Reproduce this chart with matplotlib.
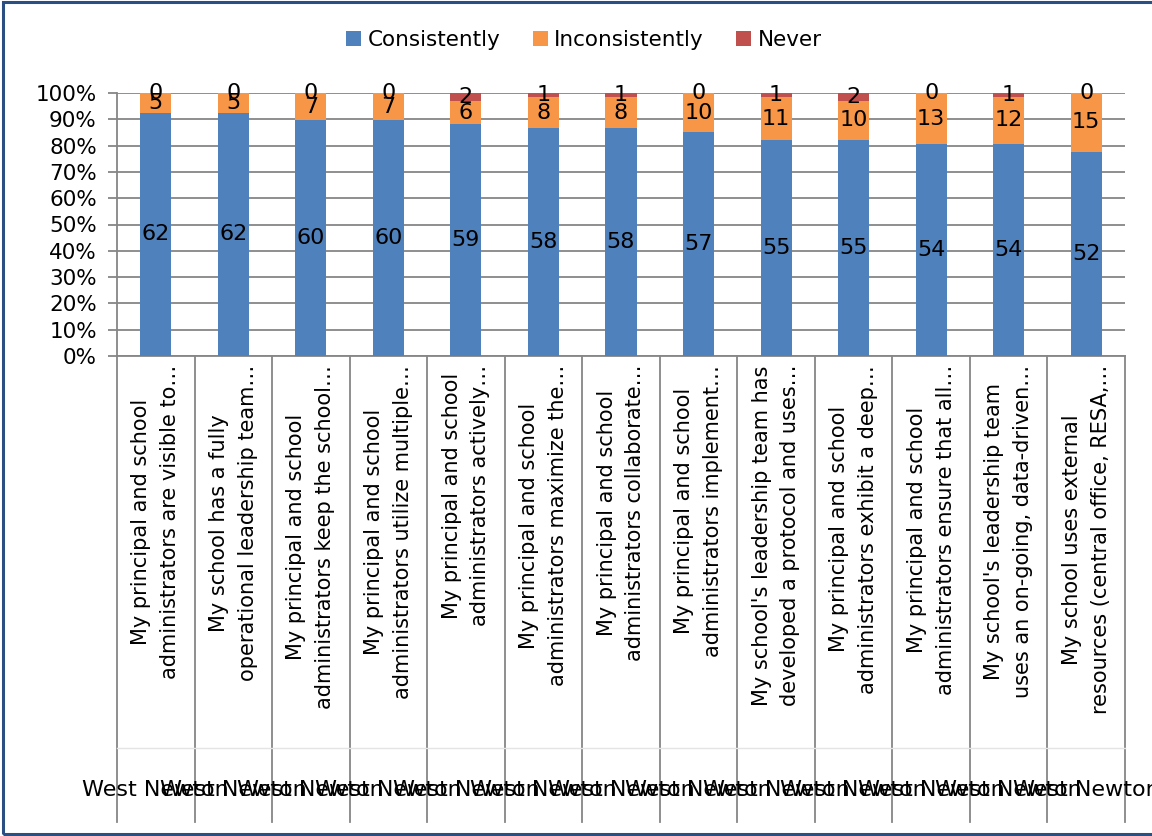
import numpy as np
import matplotlib.pyplot as plt
import matplotlib.transforms as mtransforms
from matplotlib.patches import Rectangle
from matplotlib.ticker import PercentFormatter

questions = [
    "My principal and school\nadministrators are visible to…",
    "My school has a fully\noperational leadership team…",
    "My principal and school\nadministrators keep the school…",
    "My principal and school\nadministrators utilize multiple…",
    "My principal and school\nadministrators actively…",
    "My principal and school\nadministrators maximize the…",
    "My principal and school\nadministrators collaborate…",
    "My principal and school\nadministrators implement…",
    "My school's leadership team has\ndeveloped a protocol and uses…",
    "My principal and school\nadministrators exhibit a deep…",
    "My principal and school\nadministrators ensure that all…",
    "My school's leadership team\nuses an on-going, data-driven…",
    "My school uses external\nresources (central office, RESA,…",
]
school = "West Newton"
consistently = [62, 62, 60, 60, 59, 58, 58, 57, 55, 55, 54, 54, 52]
inconsistently = [5, 5, 7, 7, 6, 8, 8, 10, 11, 10, 13, 12, 15]
never = [0, 0, 0, 0, 2, 1, 1, 0, 1, 2, 0, 1, 0]

series = [("Consistently", consistently, "#4F81BD"),
          ("Inconsistently", inconsistently, "#F79646"),
          ("Never", never, "#C0504D")]

W, H = 1152, 836
fig = plt.figure(figsize=(W / 100, H / 100), dpi=100)
ax = fig.add_axes([117 / W, 1 - 356 / H, (1125 - 117) / W, (356 - 93) / H])

x = np.arange(len(questions))
totals = np.array(consistently) + np.array(inconsistently) + np.array(never)
bottom = np.zeros(len(x))
for name, vals, col in series:
    share = np.array(vals) / totals
    ax.bar(x, share, 0.4, bottom=bottom, color=col, label=name, zorder=3)
    # value labels in the middle of each segment
    for xi, b, s, v in zip(x, bottom, share, vals):
        ax.text(xi, b + s / 2, str(v), ha="center", va="center",
                fontsize=16, zorder=4)
    bottom += share

grid = "#868686"
ax.set_xlim(-0.5, len(x) - 0.5)
ax.set_ylim(0, 1)
ax.set_yticks(np.arange(0, 1.01, 0.1))
ax.yaxis.set_major_formatter(PercentFormatter(1, decimals=0))
ax.yaxis.grid(True, color=grid, lw=1.3, zorder=0)
ax.tick_params(axis="y", length=6.5, width=1.3, color=grid, labelsize=15.5, pad=8)
ax.set_xticks([])
for s in ["top", "right"]:
    ax.spines[s].set_visible(False)
for s in ["left", "bottom"]:
    ax.spines[s].set_color(grid)
    ax.spines[s].set_linewidth(1.3)

# two-level category axis drawn below the plot
trans = mtransforms.blended_transform_factory(ax.transData, ax.transAxes)
for b in np.arange(-0.5, len(x), 1.0):
    ax.plot([b, b], [0, -1.772], color=grid, lw=1.3, transform=trans,
            clip_on=False)
ax.plot([-0.5, len(x) - 0.5], [-1.49, -1.49], color="#e4e4e4", lw=1,
        transform=trans, clip_on=False)
for xi, q in zip(x, questions):
    ax.text(xi, -0.034, q, rotation=90, ha="center", va="top",
            multialignment="center", fontsize=15, linespacing=1.55,
            transform=trans)
    ax.text(xi, -1.65, school, ha="center", va="center", fontsize=16,
            transform=trans)

fig.legend(loc="center", bbox_to_anchor=(584 / W, 1 - 40 / H), ncol=3,
           frameon=False, fontsize=15.5, handlelength=0.7, handleheight=0.7,
           handletextpad=0.3, columnspacing=1.5)

# chart border
fig.patches.append(Rectangle((3 / W, 2 / H), 1.2, 1 - 4 / H,
                             transform=fig.transFigure, fill=False,
                             edgecolor="#2A4F80", lw=2.2))

fig.savefig("out.png", dpi=100)
